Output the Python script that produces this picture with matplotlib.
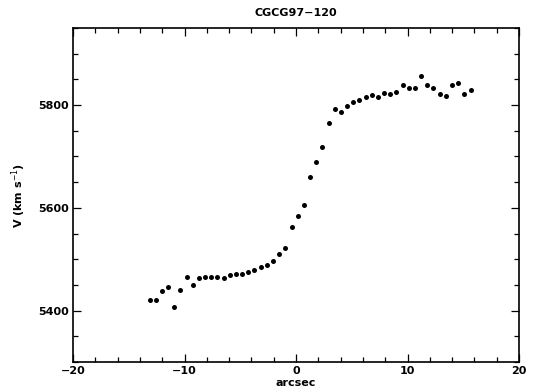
import matplotlib
matplotlib.use("Agg")
import matplotlib.pyplot as plt
from matplotlib.ticker import MultipleLocator

# Rotation curve of CGCG97-120: position along slit (arcsec) and velocity (km/s)
offset_arcsec = [
    -13.14, -12.60, -12.03, -11.49, -10.95, -10.39, -9.82, -9.28, -8.71, -8.17,
    -7.60, -7.06, -6.50, -5.96, -5.39, -4.82, -4.28, -3.74, -3.18, -2.64,
    -2.06, -1.50, -0.96, -0.40, 0.14, 0.68, 1.26, 1.80, 2.36, 2.93,
    3.47, 4.04, 4.58, 5.14, 5.68, 6.25, 6.79, 7.32, 7.90, 8.46,
    9.00, 9.57, 10.11, 10.68, 11.22, 11.79, 12.32, 12.89, 13.43, 14.00,
    14.54, 15.11, 15.65,
]
velocity_kms = [
    5420, 5420, 5438, 5445, 5407, 5440, 5465, 5449, 5464, 5465,
    5465, 5466, 5464, 5469, 5471, 5471, 5475, 5479, 5484, 5488,
    5497, 5510, 5521, 5562, 5585, 5605, 5661, 5690, 5719, 5765,
    5792, 5786, 5798, 5806, 5810, 5815, 5819, 5816, 5824, 5822,
    5826, 5840, 5833, 5833, 5856, 5840, 5834, 5821, 5818, 5840,
    5842, 5822, 5829,
]

fig = plt.figure(figsize=(5.37, 3.92), dpi=100)
ax = fig.add_axes([0.136, 0.0765, 0.8305, 0.8521])

ax.plot(offset_arcsec, velocity_kms, linestyle="none", marker="o",
        markersize=3.6, color="black", markeredgewidth=0)

ax.set_xlim(-20, 20)
ax.set_ylim(5300, 5950)
ax.xaxis.set_major_locator(MultipleLocator(10))
ax.xaxis.set_minor_locator(MultipleLocator(2))
ax.yaxis.set_major_locator(MultipleLocator(200))
ax.yaxis.set_minor_locator(MultipleLocator(50))

for s in ax.spines.values():
    s.set_linewidth(1.2)

ax.tick_params(which="both", direction="in", top=True, right=True,
               width=0.9, labelsize=8, pad=3)
ax.tick_params(which="major", length=6)
ax.tick_params(which="minor", length=3.5)
for lab in ax.get_xticklabels() + ax.get_yticklabels():
    lab.set_fontweight("bold")

ax.set_title("CGCG97\u2212120", fontsize=8, fontweight="bold", pad=8.5)
ax.set_xlabel("arcsec", fontsize=8, fontweight="bold", labelpad=1)
ax.set_ylabel("V (km s$^{-1}$)", fontsize=8, fontweight="bold", labelpad=7)

fig.savefig("out.png", dpi=100)
